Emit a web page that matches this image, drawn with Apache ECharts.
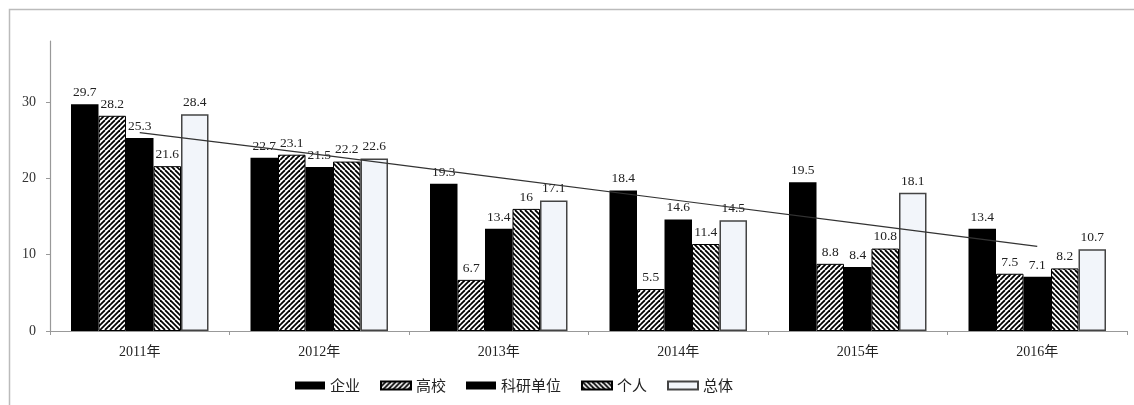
<!DOCTYPE html>
<html>
<head>
<meta charset="utf-8">
<style>
html,body{margin:0;padding:0;background:#fff;}
#chart{width:1134px;height:405px;}
</style>
<script src="https://cdn.jsdelivr.net/npm/echarts@6/dist/echarts.min.js"></script>
</head>
<body>
<div id="chart"></div>
<script>
const categories = ['2011年','2012年','2013年','2014年','2015年','2016年'];
const seriesNames = ['企业','高校','科研单位','个人','总体'];
const qiye     = [29.7, 22.7, 19.3, 18.4, 19.5, 13.4];
const gaoxiao  = [28.2, 23.1, 6.7, 5.5, 8.8, 7.5];
const keyan    = [25.3, 21.5, 13.4, 14.6, 8.4, 7.1];
const geren    = [21.6, 22.2, 16, 11.4, 10.8, 8.2];
const zongti   = [28.4, 22.6, 17.1, 14.5, 18.1, 10.7];
const trend    = [26.0, 23.1, 20.1, 17.1, 14.1, 11.1];
const yTicks   = [0, 10, 20, 30];

function stripe(dir){
  const s = 10;
  const c = document.createElement('canvas');
  c.width = s; c.height = s;
  const g = c.getContext('2d');
  g.fillStyle = '#fff'; g.fillRect(0,0,s,s);
  g.strokeStyle = '#000'; g.lineWidth = 1.8;
  for (let k = -20; k <= 30; k += 5) {
    g.beginPath();
    if (dir === 'fwd') { g.moveTo(k, 0); g.lineTo(k - s, s); }
    else { g.moveTo(k, 0); g.lineTo(k + s, s); }
    g.stroke();
  }
  return {image: c, repeat: 'repeat'};
}

const labelStyle = {
  show: true, position: 'top', distance: 5,
  fontFamily: "'Liberation Serif', 'Noto Sans CJK SC', serif",
  fontSize: 13.5, color: '#222'
};

const chart = echarts.init(document.getElementById('chart'), null, {renderer: 'canvas'});
const datasets = [qiye, gaoxiao, keyan, geren, zongti];
const styles = [
  {color: '#000'},
  {color: stripe('fwd'), borderColor: '#000', borderWidth: 1},
  {color: '#000'},
  {color: stripe('back'), borderColor: '#000', borderWidth: 1},
  {color: '#f2f5fa', borderColor: '#444', borderWidth: 1.5}
];
const series = seriesNames.map((n, i) => ({
  name: n, type: 'bar', data: datasets[i], barWidth: 27.5, barGap: '0%',
  itemStyle: styles[i], label: labelStyle, z: 2
}));
series.push({
  name: '趋势', type: 'line', data: trend, symbol: 'none', silent: true,
  lineStyle: {color: '#333', width: 1.2}, z: 5
});

chart.setOption({
  animation: false,
  backgroundColor: '#fff',
  graphic: [{
    type: 'rect', shape: {x: 9.5, y: 9.5, width: 1300, height: 600},
    style: {fill: 'none', stroke: '#bbb', lineWidth: 1.5}, silent: true
  }],
  grid: {left: 50, right: 7, top: 41, bottom: 74},
  legend: {
    data: seriesNames, left: 295, top: 378, padding: 0, icon: 'rect',
    itemWidth: 30, itemHeight: 8, itemGap: 20,
    textStyle: {fontFamily: "'Noto Sans CJK SC', sans-serif", fontSize: 15, color: '#222'}
  },
  xAxis: {
    type: 'category', data: categories,
    axisLine: {lineStyle: {color: '#999', width: 1.2}},
    axisTick: {show: true, length: 4, lineStyle: {color: '#999'}},
    axisLabel: {margin: 14, fontFamily: "'Liberation Serif', 'Noto Sans CJK SC', serif", fontSize: 14, color: '#222'}
  },
  yAxis: {
    type: 'value', min: 0, max: 38, interval: 10,
    axisLine: {show: true, lineStyle: {color: '#999', width: 1.2}},
    axisTick: {show: true, length: 4, lineStyle: {color: '#999'}, customValues: yTicks},
    axisLabel: {margin: 14, customValues: yTicks, fontFamily: "'Liberation Serif', serif", fontSize: 14, color: '#333'},
    splitLine: {show: false}
  },
  series: series
});
</script>
</body>
</html>
